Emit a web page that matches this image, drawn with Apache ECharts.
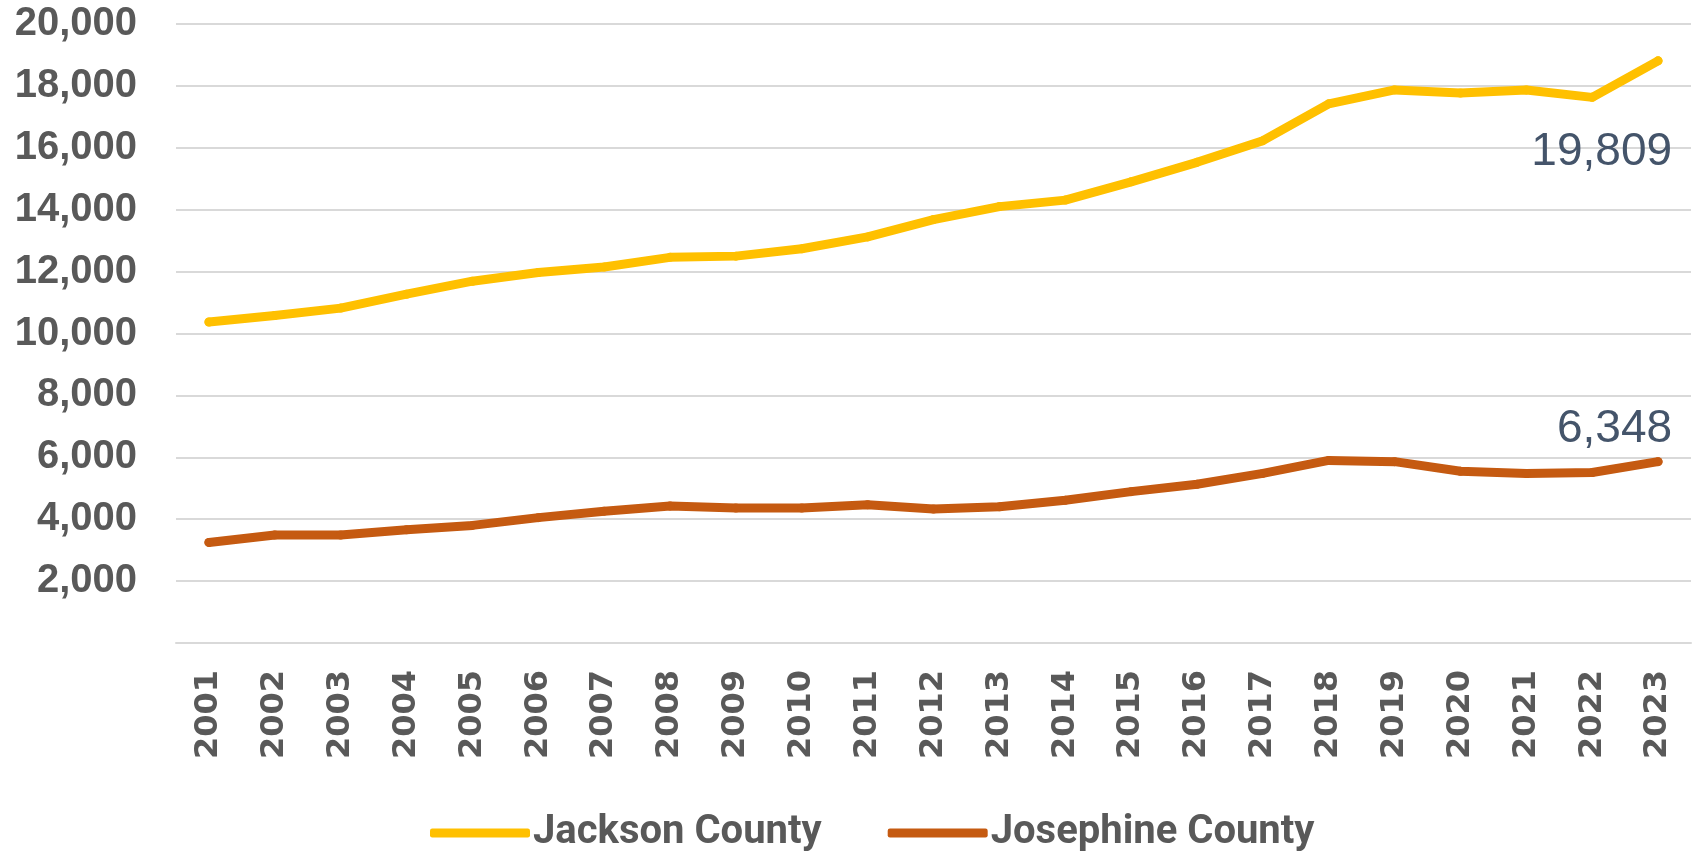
<!DOCTYPE html>
<html>
<head>
<meta charset="utf-8">
<script src="https://cdn.jsdelivr.net/npm/echarts@6/dist/echarts.min.js"></script>
<style>
  html, body { margin: 0; padding: 0; background: #fff; }
  #chart { width: 1694px; height: 853px; }
</style>
</head>
<body>
<div id="chart"></div>
<script>
// years on the x axis
var years = ['2001', '2002', '2003', '2004', '2005', '2006', '2007', '2008', '2009', '2010', '2011', '2012',
  '2013', '2014', '2015', '2016', '2017', '2018', '2019', '2020', '2021', '2022', '2023'];

// values
var jackson = [10370, 10580, 10820, 11270, 11690, 11970, 12150, 12460, 12500, 12740, 13120, 13680,
  14100, 14310, 14900, 15530, 16230, 17420, 17870, 17770, 17870, 17630, 18810];
var josephine = [3250, 3490, 3490, 3660, 3800, 4050, 4260, 4430, 4360, 4360, 4470, 4330,
  4400, 4610, 4890, 5130, 5480, 5900, 5860, 5550, 5480, 5510, 5860];

// text shown at the last point of each line
var endLabels = ['19,809', '6,348'];
var seriesNames = ['Jackson County', 'Josephine County'];

var chart = echarts.init(document.getElementById('chart'));

function withEndLabel(values, text, dy) {
  var last = values.length - 1;
  return values.map(function (v, i) {
    if (i !== last) return v;
    return {
      value: v,
      label: {
        show: true,
        position: 'top',
        align: 'right',
        verticalAlign: 'middle',
        offset: [14, dy],
        formatter: function () { return text; },
        color: '#44546A',
        fontSize: 46,
        fontFamily: 'Liberation Sans, Arial, sans-serif'
      }
    };
  });
}

var option = {
  animation: false,
  backgroundColor: '#fff',
  grid: {
    left: 176,
    right: 3,
    top: 24,
    bottom: 210
  },
  legend: {
    left: 425,
    top: 808,
    itemGap: 66,
    itemWidth: 100,
    itemHeight: 9,
    icon: 'roundRect',
    textStyle: {
      color: '#595959',
      fontSize: 40,
      fontWeight: 'bold',
      fontFamily: 'Liberation Sans Narrow, Arial Narrow, Roboto, sans-serif',
      padding: [0, 0, 0, -2]
    },
    data: seriesNames
  },
  xAxis: {
    type: 'category',
    data: years,
    boundaryGap: true,
    axisLine: { lineStyle: { color: '#D9D9D9', width: 2 } },
    axisTick: { show: false },
    axisLabel: {
      rotate: 90,
      margin: 27,
      color: '#595959',
      fontSize: 32,
      fontWeight: 'bold',
      fontFamily: 'DejaVu Sans, sans-serif',
      interval: 0
    }
  },
  yAxis: {
    type: 'value',
    min: 0,
    max: 20000,
    interval: 2000,
    axisLine: { show: false },
    axisTick: { show: false },
    splitLine: { lineStyle: { color: '#D9D9D9', width: 2 } },
    axisLabel: {
      margin: 39,
      color: '#595959',
      fontSize: 40,
      fontWeight: 'bold',
      fontFamily: 'Liberation Sans, Arial, sans-serif',
      formatter: function (v) {
        return v === 0 ? '' : v.toLocaleString('en-US');
      }
    }
  },
  series: [
    {
      name: seriesNames[0],
      type: 'line',
      data: withEndLabel(jackson, endLabels[0], 101),
      symbol: 'circle',
      symbolSize: 9,
      showSymbol: true,
      color: '#FFC000',
      lineStyle: { width: 9, color: '#FFC000', cap: 'round', join: 'round' }
    },
    {
      name: seriesNames[1],
      type: 'line',
      data: withEndLabel(josephine, endLabels[1], -23),
      symbol: 'circle',
      symbolSize: 9,
      showSymbol: true,
      color: '#C55A11',
      lineStyle: { width: 9, color: '#C55A11', cap: 'round', join: 'round' }
    }
  ]
};

chart.setOption(option);
</script>
</body>
</html>
